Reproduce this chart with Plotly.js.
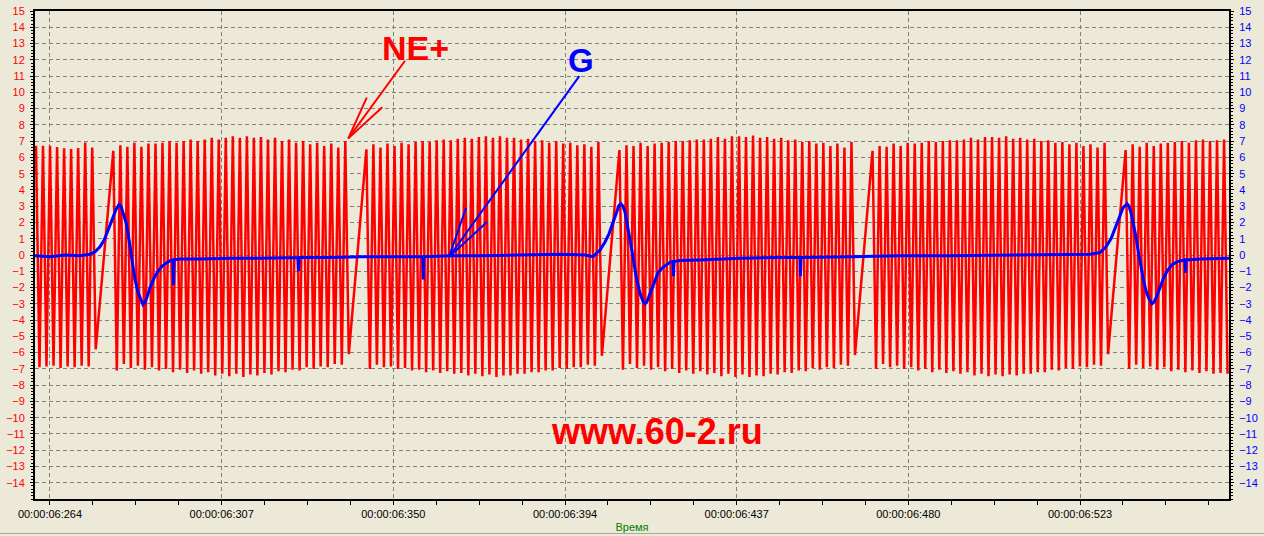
<!DOCTYPE html>
<html>
<head>
<meta charset="utf-8">
<script src="https://cdn.plot.ly/plotly-3.0.1.min.js"></script>
<style>
html,body{margin:0;padding:0;background:#ECE9D8;}
#chart{width:1264px;height:536px;}
</style>
</head>
<body>
<div id="chart"></div>
<script>
// ---------- X axis (time, ms after 00:00:06) ----------
const xTickMs = [264, 307.17, 350.33, 393.5, 436.67, 479.83, 523];
const xTickText = ["00:00:06:264","00:00:06:307","00:00:06:350","00:00:06:394","00:00:06:437","00:00:06:480","00:00:06:523"];
const yTickVals = [-14,-13,-12,-11,-10,-9,-8,-7,-6,-5,-4,-3,-2,-1,0,1,2,3,4,5,6,7,8,9,10,11,12,13,14,15];

// ---------- NE+ (crank sensor, red): tooth times and sampled high / low values ----------
const neToothMs = [
  260.48, 262.24, 264.01, 265.78, 267.55, 269.31, 271.08, 272.85, 274.62,
  279.92, 281.69, 283.45, 285.22, 286.99, 288.76, 290.53, 292.29, 294.06, 295.83,
  297.60, 299.36, 301.13, 302.90, 304.67, 306.44, 308.20, 309.97, 311.74, 313.51,
  315.27, 317.04, 318.81, 320.58, 322.34, 324.11, 325.88, 327.65, 329.42, 331.18,
  332.95, 334.72, 336.49, 338.25,
  343.56, 345.32, 347.09, 348.86, 350.63, 352.40, 354.16, 355.93, 357.70, 359.47,
  361.23, 363.00, 364.77, 366.54, 368.31, 370.07, 371.84, 373.61, 375.38, 377.14,
  378.91, 380.68, 382.45, 384.21, 385.98, 387.75, 389.52, 391.29, 393.05, 394.82,
  396.59, 398.36, 400.12, 401.89,
  407.19, 408.96, 410.73, 412.50, 414.27, 416.03, 417.80, 419.57, 421.34, 423.10,
  424.87, 426.64, 428.41, 430.17, 431.94, 433.71, 435.48, 437.25, 439.01, 440.78,
  442.55, 444.32, 446.08, 447.85, 449.62, 451.39, 453.15, 454.92, 456.69, 458.46,
  460.23, 461.99, 463.76, 465.53,
  470.83, 472.60, 474.37, 476.13, 477.90, 479.67, 481.44, 483.20, 484.97, 486.74,
  488.51, 490.28, 492.04, 493.81, 495.58, 497.35, 499.11, 500.88, 502.65, 504.42,
  506.19, 507.95, 509.72, 511.49, 513.26, 515.02, 516.79, 518.56, 520.33, 522.09,
  523.86, 525.63, 527.40, 529.17,
  534.47, 536.24, 538.00, 539.77, 541.54, 543.31, 545.07, 546.84, 548.61, 550.38,
  552.15, 553.91, 555.68, 557.45, 559.22
];
const neHigh = [
  6.72, 6.72, 6.72, 6.64, 6.56, 6.52, 6.58, 6.91, 6.6,
  6.4, 6.75, 6.65, 6.9, 6.65, 6.85, 6.85, 6.9, 7.0, 6.9, 7.0, 7.1, 7.0, 7.1, 7.2, 7.1, 7.2, 7.3, 7.2, 7.3,
  7.2, 7.25, 7.1, 7.2, 7.0, 7.1, 6.9, 7.0, 6.8, 6.9, 6.7, 6.85, 6.6, 7.0,
  6.5, 6.8, 6.6, 6.85, 6.7, 6.9, 6.8, 6.95, 7.0, 6.95, 7.05, 7.1, 7.05, 7.15, 7.2, 7.15, 7.25, 7.3, 7.2, 7.3,
  7.2, 7.2, 7.1, 7.15, 7.0, 7.05, 6.9, 7.0, 6.85, 6.9, 6.75, 6.8, 6.65, 6.95,
  6.45, 6.75, 6.7, 6.9, 6.7, 6.85, 6.9, 6.95, 7.0, 7.0, 7.05, 7.1, 7.1, 7.15, 7.25, 7.15, 7.3, 7.3, 7.25, 7.35,
  7.2, 7.25, 7.15, 7.2, 7.05, 7.1, 6.95, 7.0, 6.85, 6.9, 6.7, 6.85, 6.6, 6.95,
  6.4, 6.7, 6.65, 6.85, 6.7, 6.9, 6.85, 6.9, 7.0, 6.95, 7.0, 7.05, 7.05, 7.1, 7.2, 7.1, 7.25, 7.25, 7.2, 7.3,
  7.15, 7.2, 7.1, 7.15, 7.0, 7.05, 6.9, 6.95, 6.8, 6.9, 6.7, 6.8, 6.6, 6.9,
  6.45, 6.8, 6.65, 6.9, 6.7, 6.85, 6.9, 6.95, 7.0, 6.9, 7.05, 7.1, 7.0, 7.05, 7.1
];
const neLow = [
  -6.9, -6.85, -6.8, -6.95, -6.85, -6.9, -6.8, -6.85, -5.8,
  -7.1, -6.7, -6.95, -6.8, -7.05, -6.9, -7.1, -7.0, -7.2, -7.05, -7.25, -7.1, -7.3, -7.2, -7.4, -7.3, -7.45, -7.3, -7.5, -7.35,
  -7.4, -7.25, -7.35, -7.15, -7.2, -7.05, -7.1, -6.9, -7.0, -6.85, -6.9, -6.7, -6.75, -6.1,
  -7.0, -6.75, -6.9, -6.85, -7.0, -6.95, -7.1, -7.05, -7.2, -7.1, -7.25, -7.15, -7.3, -7.25, -7.4, -7.3, -7.45, -7.35, -7.5, -7.4,
  -7.4, -7.3, -7.3, -7.2, -7.2, -7.1, -7.1, -6.95, -7.0, -6.9, -6.9, -6.75, -6.8, -6.2,
  -7.05, -6.7, -6.95, -6.8, -7.05, -6.9, -7.15, -7.0, -7.25, -7.1, -7.3, -7.15, -7.35, -7.25, -7.45, -7.3, -7.5, -7.35, -7.5, -7.4,
  -7.45, -7.3, -7.35, -7.2, -7.25, -7.1, -7.15, -6.95, -7.05, -6.9, -6.95, -6.75, -6.8, -6.15,
  -7.0, -6.7, -6.9, -6.8, -7.0, -6.9, -7.1, -7.0, -7.2, -7.05, -7.25, -7.15, -7.3, -7.2, -7.4, -7.3, -7.45, -7.35, -7.45, -7.35,
  -7.4, -7.3, -7.3, -7.2, -7.2, -7.05, -7.1, -6.95, -7.0, -6.85, -6.9, -6.75, -6.8, -6.1,
  -7.0, -6.75, -6.95, -6.85, -7.05, -6.9, -7.15, -7.05, -7.2, -7.1, -7.25, -7.15, -7.3, -7.25, -7.3
];

// ---------- G (cam sensor, blue) ----------
const gMs = [
  260.23, 264.00, 267.77, 271.55, 274.06, 275.32, 276.57, 277.58, 278.33, 279.09,
  279.84, 280.60, 281.35, 281.85, 282.36, 283.11, 283.61, 284.11, 284.62, 285.37,
  286.13, 286.88, 287.39, 287.89, 288.39, 289.15, 289.65, 290.40, 291.16, 292.17,
  293.17, 294.18, 294.93, 295.06, 295.18, 296.69, 301.72, 309.26, 316.80, 326.36,
  326.48, 326.61, 334.41, 341.95, 352.01, 357.79, 357.92, 358.05, 364.58, 372.13,
  382.19, 392.24, 398.53, 400.54, 402.30, 403.56, 404.56, 405.31, 406.32, 407.07,
  407.57, 408.08, 408.58, 409.09, 409.59, 410.09, 410.60, 411.35, 412.36, 413.11,
  413.61, 414.12, 414.87, 415.62, 416.13, 416.88, 417.89, 418.89, 419.90, 420.65,
  420.78, 420.90, 422.41, 427.44, 437.50, 447.56, 452.59, 452.72, 452.84, 465.16,
  477.73, 490.31, 502.88, 515.45, 525.51, 528.02, 529.53, 530.79, 531.80, 532.80,
  533.81, 534.81, 535.32, 535.82, 536.57, 537.08, 537.58, 538.08, 538.84, 539.59,
  540.35, 541.10, 541.60, 542.36, 543.11, 543.87, 544.87, 546.13, 547.64, 549.40,
  549.52, 549.65, 553.17, 560.46
];
const gV = [
  -0.05, -0.1, 0.0, -0.05, 0.05, 0.2, 0.5, 0.9, 1.35, 1.85,
  2.35, 2.8, 3.1, 3.0, 2.6, 2.0, 1.35, 0.5, -0.3, -1.5,
  -2.3, -2.8, -3.05, -2.9, -2.6, -2.0, -1.7, -1.3, -1.0, -0.7,
  -0.5, -0.35, -0.3, -1.85, -0.3, -0.25, -0.25, -0.2, -0.2, -0.15,
  -1.0, -0.15, -0.15, -0.1, -0.1, -0.1, -1.5, -0.1, -0.05, -0.05,
  0.0, 0.05, 0.0, -0.1, 0.3, 0.8, 1.3, 1.8, 2.6, 3.05,
  3.15, 3.0, 2.65, 2.0, 1.35, 0.6, -0.1, -1.3, -2.35, -2.85,
  -3.0, -2.85, -2.35, -1.9, -1.55, -1.1, -0.8, -0.6, -0.45, -0.4,
  -1.3, -0.4, -0.34, -0.3, -0.2, -0.15, -0.15, -1.3, -0.15, -0.1,
  -0.05, -0.05, 0.0, 0.05, 0.05, 0.15, 0.5, 1.0, 1.6, 2.3,
  2.9, 3.15, 3.0, 2.6, 1.8, 1.1, 0.3, -0.4, -1.4, -2.2,
  -2.7, -3.0, -2.9, -2.5, -2.0, -1.5, -1.0, -0.6, -0.4, -0.3,
  -1.1, -0.3, -0.25, -0.2
];

// ---------- build NE+ sample sequence (high then low per tooth) ----------
const lowOffsetMs = 0.88;
const neX = [], neY = [];
const nTeeth = Math.min(neToothMs.length, neHigh.length, neLow.length);
for (let i = 0; i < nTeeth; i++) {
  neX.push(neToothMs[i], neToothMs[i] + lowOffsetMs);
  neY.push(neHigh[i], neLow[i]);
}

const traces = [
  {x: neX, y: neY, type: 'scatter', mode: 'lines', name: 'NE+',
   line: {color: '#FF0000', width: 2.5}, yaxis: 'y', hoverinfo: 'skip'},
  {x: gMs, y: gV, type: 'scatter', mode: 'lines', name: 'G',
   line: {color: '#0000FF', width: 3}, yaxis: 'y2', hoverinfo: 'skip'}
];

const tickFont = {family: 'Liberation Sans, Arial, sans-serif', size: 11};
const gridDash = '4px,3px';

const layout = {
  width: 1264, height: 536,
  margin: {l: 35, r: 35, t: 11, b: 37, pad: 0},
  paper_bgcolor: '#ECE9D8', plot_bgcolor: '#ECE9D8',
  showlegend: false,
  xaxis: {
    range: [260.23, 560.46], tickmode: 'array', tickvals: xTickMs, ticktext: xTickText,
    ticks: 'outside', ticklen: 4, tickwidth: 1, tickcolor: '#000',
    tickfont: Object.assign({color: '#000'}, tickFont), ticklabelstandoff: 0,
    showgrid: true, gridcolor: '#808080', gridwidth: 1, griddash: gridDash,
    showline: true, linecolor: '#000', linewidth: 2, mirror: true, zeroline: false,
    minor: {tickmode: 'linear', tick0: 264, dtick: 10.7917, ticks: 'outside', ticklen: 4, tickcolor: '#000', showgrid: false},
    title: {text: 'Время', font: {family: 'Liberation Sans, Arial, sans-serif', size: 11, color: '#008000'}, standoff: 4},
    fixedrange: true
  },
  yaxis: {
    range: [-15, 15], tickmode: 'array', tickvals: yTickVals,
    ticks: 'outside', ticklen: 3, tickcolor: '#000',
    tickfont: Object.assign({color: '#FF0000'}, tickFont), ticklabelstandoff: 3,
    showgrid: true, gridcolor: '#808080', gridwidth: 1, griddash: gridDash,
    showline: true, linecolor: '#000', linewidth: 2, mirror: true, zeroline: false,
    minor: {tickmode: 'linear', tick0: 0, dtick: 0.2, ticks: 'outside', ticklen: 2, tickcolor: '#000', showgrid: false},
    fixedrange: true
  },
  yaxis2: {
    range: [-15, 15], tickmode: 'array', tickvals: yTickVals, overlaying: 'y', side: 'right',
    ticks: 'outside', ticklen: 3, tickcolor: '#000',
    tickfont: Object.assign({color: '#0000FF'}, tickFont), ticklabelstandoff: 3,
    showgrid: false, zeroline: false, showline: true, linecolor: '#000', linewidth: 2,
    minor: {tickmode: 'linear', tick0: 0, dtick: 0.2, ticks: 'outside', ticklen: 2, tickcolor: '#000', showgrid: false},
    fixedrange: true
  },
  shapes: [
    // NE+ arrow
    {type: 'line', xref: 'x', yref: 'y', x0: 353.27, y0: 11.94, x1: 339.01, y1: 7.17, line: {color: '#FF0000', width: 2}},
    {type: 'line', xref: 'x', yref: 'y', x0: 343.64, y0: 9.67, x1: 339.01, y1: 7.17, line: {color: '#FF0000', width: 2}},
    {type: 'line', xref: 'x', yref: 'y', x0: 347.56, y0: 9.08, x1: 339.01, y1: 7.17, line: {color: '#FF0000', width: 2}},
    // G arrow
    {type: 'line', xref: 'x', yref: 'y', x0: 397.09, y0: 11.0, x1: 364.33, y1: -0.12, line: {color: '#0000FF', width: 2}},
    {type: 'line', xref: 'x', yref: 'y', x0: 368.60, y0: 2.89, x1: 364.33, y1: -0.12, line: {color: '#0000FF', width: 2}},
    {type: 'line', xref: 'x', yref: 'y', x0: 373.89, y0: 2.03, x1: 364.33, y1: -0.12, line: {color: '#0000FF', width: 2}},
    // window bottom edge
    {type: 'line', xref: 'paper', yref: 'paper', x0: -0.03, x1: 1.03, y0: -0.0707, y1: -0.0707, line: {color: '#ACA899', width: 1}}
  ],
  annotations: [
    {text: '<b>NE+</b>', xref: 'x', yref: 'y', x: 356.03, y: 12.73, showarrow: false,
     font: {family: 'Liberation Sans, Arial, sans-serif', size: 34, color: '#FF0000'}},
    {text: '<b>G</b>', xref: 'x', yref: 'y', x: 397.52, y: 11.93, showarrow: false,
     font: {family: 'Liberation Sans, Arial, sans-serif', size: 33, color: '#0000FF'}},
    {text: '<b>www.60-2.ru</b>', xref: 'x', yref: 'y', x: 416.63, y: -10.88, showarrow: false,
     font: {family: 'Liberation Sans, Arial, sans-serif', size: 36, color: '#FF0000'}}
  ]
};

Plotly.newPlot('chart', traces, layout, {staticPlot: true, displayModeBar: false});
</script>
</body>
</html>
